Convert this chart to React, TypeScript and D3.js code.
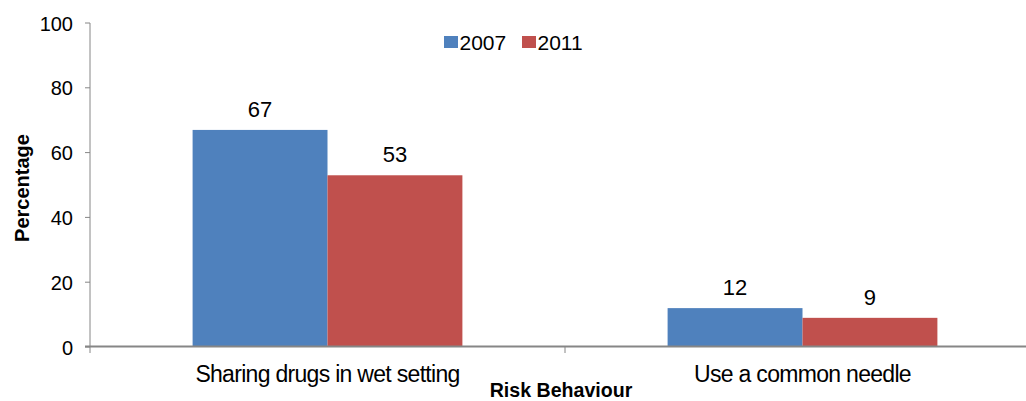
import React from "react";
import * as d3 from "d3";

const categories = ["Sharing drugs in wet setting", "Use a common needle"];
const seriesNames = ["2007", "2011"];
const values2007 = [67, 12];
const values2011 = [53, 9];
const yTicks = [0, 20, 40, 60, 80, 100];

const colors = ["#4F81BD", "#C0504D"];

export default function App() {
  const W = 1026, H = 401;
  const x0 = 90, x1 = 1040, yTop = 23, yBot = 347;
  const x = d3.scaleBand<string>().domain(categories).range([x0, x1]).paddingInner(0).paddingOuter(0);
  const y = d3.scaleLinear().domain([0, 100]).range([yBot, yTop]);
  const groupW = x.bandwidth() * 0.568;
  const xs = d3.scaleBand<string>().domain(seriesNames).range([0, groupW]);
  const series = [values2007, values2011];
  const font = "Arial, 'Liberation Sans', sans-serif";
  const axisColor = "#868686";

  return (
    <svg width={W} height={H} style={{ position: "absolute", left: 0, top: 0 }} fontFamily={font}>
      <rect width={W} height={H} fill="#fff" />
      {/* bars */}
      {categories.map((c, ci) => (
        <g key={c} transform={`translate(${x(c)! + (x.bandwidth() - groupW) / 2},0)`}>
          {seriesNames.map((s, si) => {
            const v = series[si][ci];
            return (
              <g key={s}>
                <rect x={xs(s)} y={y(v)} width={xs.bandwidth()} height={y(0) - y(v)} fill={colors[si]} />
                <text x={xs(s)! + xs.bandwidth() / 2} y={y(v) - 13} textAnchor="middle" fontSize={22} fill="#000">
                  {v}
                </text>
              </g>
            );
          })}
        </g>
      ))}
      {/* y axis */}
      <line x1={x0} x2={x0} y1={yTop} y2={yBot} stroke={axisColor} strokeWidth={1} />
      {yTicks.map((t) => (
        <g key={t}>
          <line x1={x0 - 5} x2={x0} y1={y(t)} y2={y(t)} stroke={axisColor} />
          <text x={x0 - 17} y={y(t) + 7.5} textAnchor="end" fontSize={20} fill="#000">
            {t}
          </text>
        </g>
      ))}
      {/* x axis */}
      <line x1={x0 - 5} x2={x1} y1={yBot - 0.5} y2={yBot - 0.5} stroke={axisColor} strokeWidth={2} />
      {[x0, ...categories.map((c) => x(c)! + x.bandwidth())].map((px, i) => (
        <line key={i} x1={px} x2={px} y1={yBot} y2={yBot + 6} stroke={axisColor} />
      ))}
      {categories.map((c) => (
        <text key={c} x={x(c)! + x.bandwidth() / 2} y={382} textAnchor="middle" fontSize={23} fill="#000" letterSpacing={-0.7}>
          {c}
        </text>
      ))}
      {/* axis titles */}
      <text x={561} y={397} textAnchor="middle" fontSize={19.6} fontWeight="bold" fill="#000">
        Risk Behaviour
      </text>
      <text transform={`translate(29,188) rotate(-90)`} textAnchor="middle" fontSize={20} fontWeight="bold" fill="#000">
        Percentage
      </text>
      {/* legend */}
      {seriesNames.map((s, i) => (
        <g key={s} transform={`translate(${444 + i * 78},0)`}>
          <rect x={0} y={36} width={14} height={12} fill={colors[i]} />
          <text x={15.5} y={50} fontSize={21} fill="#000">
            {s}
          </text>
        </g>
      ))}
    </svg>
  );
}
